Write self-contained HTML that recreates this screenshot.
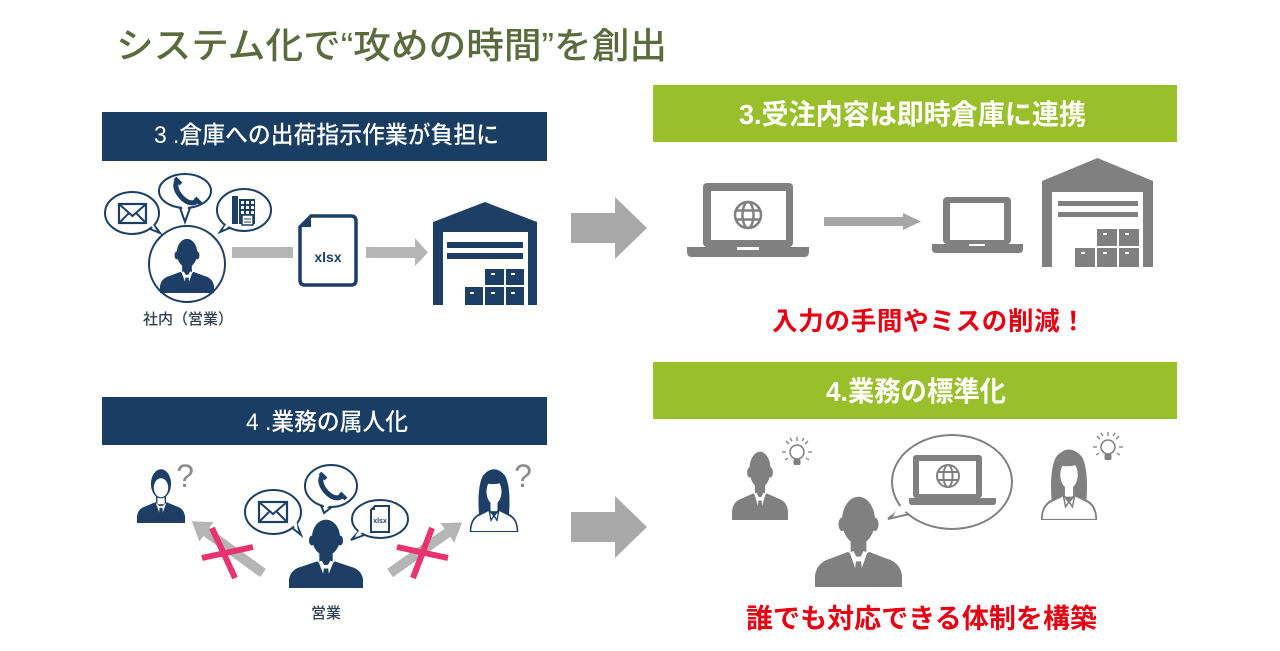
<!DOCTYPE html>
<html><head><meta charset="utf-8">
<style>
html,body{margin:0;padding:0;background:#fff;}
body{width:1280px;height:651px;overflow:hidden;position:relative;}
svg{position:absolute;left:0;top:0;}
text{font-family:"Liberation Sans","Noto Sans CJK JP",sans-serif;}
</style></head>
<body>
<svg width="1280" height="651" viewBox="0 0 1280 651" xmlns="http://www.w3.org/2000/svg">
<defs>
  <symbol id="man" viewBox="0 0 100 100" preserveAspectRatio="none">
    <ellipse cx="50" cy="30" rx="19" ry="25" fill="currentColor"/>
    <ellipse cx="31" cy="34" rx="4" ry="7" fill="currentColor"/>
    <ellipse cx="69" cy="34" rx="4" ry="7" fill="currentColor"/>
    <rect x="41" y="44" width="18" height="24" fill="currentColor"/>
    <path d="M0,100 L0,88 Q2,74 18,70 L38,63 L50,72 L62,63 L82,70 Q98,74 100,88 L100,100 Z" fill="currentColor"/>
    <path d="M40,64 L50,90 L60,64 L56,62 L50,72 L44,62 Z" fill="#fff"/>
    <path d="M47,73 L53,73 L55,92 L50,99 L45,92 Z" fill="currentColor"/>
  </symbol>
  <symbol id="man2" viewBox="0 0 100 100" preserveAspectRatio="none">
    <path d="M0,100 L0,88 Q2,74 18,70 L38,63 L50,72 L62,63 L82,70 Q98,74 100,88 L100,100 Z" fill="currentColor"/>
    <rect x="41" y="46" width="18" height="22" fill="#fff" stroke="currentColor" stroke-width="3"/>
    <path d="M39,64 L50,90 L61,64 L50,72 Z" fill="#fff"/>
    <path d="M47,73 L53,73 L55,92 L50,99 L45,92 Z" fill="currentColor"/>
    <ellipse cx="50" cy="30" rx="21" ry="26" fill="currentColor"/>
    <ellipse cx="50" cy="37" rx="15" ry="17" fill="#fff"/>
  </symbol>
  <symbol id="woman" viewBox="0 0 100 100" preserveAspectRatio="none">
    <path d="M20,74 Q16,30 28,13 Q50,-6 72,13 Q84,30 80,74 Z" fill="currentColor"/>
    <ellipse cx="50" cy="38" rx="15" ry="19" fill="#fff"/>
    <rect x="43" y="52" width="14" height="16" fill="#fff"/>
    <path d="M3,100 Q3,79 22,73 L40,66 L50,75 L60,66 L78,73 Q97,79 97,100 Z" fill="#fff" stroke="currentColor" stroke-width="3"/>
    <path d="M40,66 L44,82 L50,75 L56,82 L60,66" fill="none" stroke="currentColor" stroke-width="2.5"/>
    <path d="M30,20 Q50,8 70,20 Q62,28 40,26 Z" fill="currentColor"/>
  </symbol>
  <symbol id="bulb" viewBox="-16 -16 32 32">
    <circle cx="0" cy="-1" r="7" fill="#fff" stroke="#808080" stroke-width="1.5"/>
    <rect x="-3.5" y="6" width="7" height="6" rx="1.5" fill="#808080"/>
    <g stroke="#808080" stroke-width="1.3">
      <line x1="-15" y1="-1" x2="-11" y2="-1"/><line x1="11" y1="-1" x2="15" y2="-1"/>
      <line x1="0" y1="-16" x2="0" y2="-12"/>
      <line x1="-11" y1="-12" x2="-8" y2="-9"/><line x1="11" y1="-12" x2="8" y2="-9"/>
      <line x1="-12" y1="7" x2="-9" y2="5"/><line x1="12" y1="7" x2="9" y2="5"/>
      <line x1="-7" y1="-15" x2="-5" y2="-12"/><line x1="7" y1="-15" x2="5" y2="-12"/>
    </g>
  </symbol>
</defs>

<!-- Title -->
<text x="116" y="58" font-size="36" font-weight="500" fill="#5a6b3d" textLength="551" lengthAdjust="spacingAndGlyphs">システム化で“攻めの時間”を創出</text>

<!-- Headers -->
<rect x="102" y="112" width="445" height="49" fill="#1a3d64"/>
<text x="154" y="143" font-size="24" font-weight="500" fill="#fff" textLength="345" lengthAdjust="spacingAndGlyphs">3 .倉庫への出荷指示作業が負担に</text>

<rect x="653" y="85" width="524" height="57" fill="#99bf2a"/>
<text x="739" y="124" font-size="28" font-weight="bold" fill="#fff" textLength="347" lengthAdjust="spacingAndGlyphs">3.受注内容は即時倉庫に連携</text>

<rect x="102" y="397" width="445" height="48" fill="#1a3d64"/>
<text x="246" y="430" font-size="24" font-weight="500" fill="#fff" textLength="162" lengthAdjust="spacingAndGlyphs">4 .業務の属人化</text>

<rect x="653" y="362" width="524" height="57" fill="#99bf2a"/>
<text x="826" y="401" font-size="28" font-weight="bold" fill="#fff" textLength="180" lengthAdjust="spacingAndGlyphs">4.業務の標準化</text>

<!-- Big arrows -->
<polygon points="571,213 615,213 615,197 647,228 615,259 615,243 571,243" fill="#a9a9a9"/>
<polygon points="571,512 615,512 615,496 647,527 615,558 615,542 571,542" fill="#a9a9a9"/>

<!-- ========== TOP LEFT ========== -->
<g stroke="#1d3f66" stroke-width="2" fill="#fff">
  <path d="M150,229 L160,233 L152,222"/>
  <ellipse cx="132" cy="213" rx="27" ry="21"/>
  <path d="M179,205 L185,222 L191,205"/>
  <ellipse cx="185" cy="191" rx="26" ry="17"/>
  <path d="M227,222 L220,232 L232,227"/>
  <ellipse cx="244" cy="210" rx="27" ry="21"/>
</g>
<g fill="#fff">
  <path d="M151,226 L156,230 L152,222 Z"/>
  <path d="M181,204 L185,218 L189,204 Z"/>
  <path d="M228,221 L223,229 L232,225 Z"/>
</g>
<rect x="119" y="204" width="27" height="19" fill="#fff" stroke="#1d3f66" stroke-width="2.2"/>
<path d="M119,204 L132.5,216 L146,204 M119,223 L129,213 M146,223 L136,213" fill="none" stroke="#1d3f66" stroke-width="2"/>
<path d="M177,181 C173,188 180,197 186,201 C191,204 196,203 198,200" fill="none" stroke="#1d3f66" stroke-width="5"/>
<path d="M175,178 L181,184 M195,198 L201,204" stroke="#1d3f66" stroke-width="4"/>
<rect x="232" y="196" width="6" height="28" fill="#1d3f66"/>
<rect x="239" y="199" width="16" height="25" fill="#1d3f66"/>
<g fill="#fff">
  <rect x="241" y="201" width="3" height="3"/><rect x="246" y="201" width="3" height="3"/><rect x="251" y="201" width="3" height="3"/>
  <rect x="241" y="206" width="3" height="3"/><rect x="246" y="206" width="3" height="3"/><rect x="251" y="206" width="3" height="3"/>
  <rect x="241" y="211" width="3" height="3"/><rect x="246" y="211" width="3" height="3"/><rect x="251" y="211" width="3" height="3"/>
</g>
<rect x="242" y="215" width="11" height="10" fill="#fff" stroke="#1d3f66" stroke-width="1.5"/>
<line x1="244" y1="219" x2="251" y2="219" stroke="#1d3f66" stroke-width="1"/>
<line x1="244" y1="222" x2="251" y2="222" stroke="#1d3f66" stroke-width="1"/>
<circle cx="187" cy="264" r="38" fill="#fff" stroke="#1d3f66" stroke-width="2"/>
<use href="#man" x="160" y="236" width="54" height="57" color="#1d3f66"/>
<text x="188" y="324" font-size="15" font-weight="500" fill="#2f3f50" text-anchor="middle">社内（営業）</text>
<rect x="232" y="247" width="61" height="11" fill="#b5b5b5"/>
<path d="M311,216 L351,216 Q356,216 356,221 L356,280 Q356,285 351,285 L305,285 Q300,285 300,280 L300,227 Z" fill="#fff" stroke="#1d3f66" stroke-width="3.5"/>
<path d="M300,227 L311,216 L311,227 Z" fill="#1d3f66"/>
<text x="328" y="262" font-size="14" font-weight="bold" fill="#1d3f66" text-anchor="middle">xlsx</text>
<rect x="366" y="247" width="50" height="11" fill="#b5b5b5"/>
<polygon points="415,238 428,252.5 415,266" fill="#b5b5b5"/>
<polygon points="433,222 485,202 537,222 537,305 528,305 528,232 443,232 443,305 433,305" fill="#1d3f66"/>
<rect x="447" y="242" width="76" height="6" fill="#1d3f66"/>
<rect x="447" y="253" width="76" height="6" fill="#1d3f66"/>
<g fill="#1d3f66">
  <rect x="485" y="269" width="19" height="16"/><rect x="506" y="269" width="18" height="16"/>
  <rect x="465" y="287" width="18" height="18"/><rect x="485" y="287" width="19" height="18"/><rect x="506" y="287" width="18" height="18"/>
</g>
<g fill="#fff">
  <rect x="491" y="273" width="4" height="2"/><rect x="511" y="273" width="4" height="2"/>
  <rect x="470" y="292" width="4" height="2"/><rect x="491" y="292" width="4" height="2"/><rect x="511" y="292" width="4" height="2"/>
</g>

<!-- ========== TOP RIGHT ========== -->
<rect x="703" y="183" width="90" height="64" rx="4" fill="#808080"/>
<rect x="711" y="191" width="75" height="49" fill="#fff"/>
<path d="M687,247 L809,247 L809,252 Q809,257 804,257 L692,257 Q687,257 687,252 Z" fill="#808080"/>
<rect x="737" y="247" width="22" height="3" fill="#fff"/>
<g fill="none" stroke="#808080" stroke-width="2.5">
  <circle cx="748" cy="215" r="13"/>
  <ellipse cx="748" cy="215" rx="5.5" ry="13"/>
  <line x1="735" y1="210.5" x2="761" y2="210.5"/>
  <line x1="735" y1="219.5" x2="761" y2="219.5"/>
</g>
<rect x="824" y="217" width="80" height="9" fill="#a6a6a6"/>
<polygon points="903,213 921,221.5 903,230" fill="#a6a6a6"/>
<rect x="943" y="197" width="68" height="47" rx="4" fill="#808080"/>
<rect x="950" y="203" width="54" height="37" fill="#fff"/>
<path d="M932,244 L1023,244 L1023,249 Q1023,253 1019,253 L936,253 Q932,253 932,249 Z" fill="#808080"/>
<rect x="969" y="244" width="16" height="2" fill="#fff"/>
<polygon points="1042,181 1097.5,158 1153,181 1153,267 1143,267 1143,192 1052,192 1052,267 1042,267" fill="#808080"/>
<rect x="1058" y="201" width="80" height="5" fill="#808080"/>
<rect x="1058" y="212" width="80" height="5" fill="#808080"/>
<g fill="#808080">
  <rect x="1097" y="229" width="20" height="17"/><rect x="1119" y="229" width="20" height="17"/>
  <rect x="1075" y="248" width="20" height="19"/><rect x="1097" y="248" width="20" height="19"/><rect x="1119" y="248" width="20" height="19"/>
</g>
<g fill="#fff">
  <rect x="1103" y="233" width="4" height="2"/><rect x="1125" y="233" width="4" height="2"/>
  <rect x="1081" y="252" width="4" height="2"/><rect x="1103" y="252" width="4" height="2"/><rect x="1125" y="252" width="4" height="2"/>
</g>
<text x="772" y="330" font-size="25.5" font-weight="bold" fill="#e60012" textLength="314" lengthAdjust="spacing">入力の手間やミスの削減！</text>

<!-- ========== BOTTOM LEFT ========== -->
<use href="#man2" x="137" y="467" width="48" height="56" color="#1d3f66"/>
<text x="185" y="487" font-size="32" fill="#8c8c8c" text-anchor="middle">?</text>
<use href="#woman" x="469" y="467" width="50" height="65" color="#1d3f66"/>
<text x="523" y="487" font-size="32" fill="#8c8c8c" text-anchor="middle">?</text>

<g transform="translate(263,573) rotate(-144)" fill="#b5b5b5">
  <rect x="0" y="-5" width="72" height="10"/>
  <polygon points="70,-12 88,0 70,12"/>
</g>
<g transform="translate(390,573) rotate(-35)" fill="#b5b5b5">
  <rect x="0" y="-5" width="72" height="10"/>
  <polygon points="70,-12 88,0 70,12"/>
</g>
<g stroke="#e8336e" stroke-width="6" stroke-linecap="butt">
  <line x1="202" y1="558" x2="253" y2="547"/>
  <line x1="212" y1="528" x2="235" y2="578"/>
  <line x1="397" y1="547" x2="448" y2="558"/>
  <line x1="432" y1="528" x2="413" y2="578"/>
</g>

<g stroke="#1d3f66" stroke-width="2" fill="#fff">
  <path d="M291,527 L301,535 L295,520"/>
  <ellipse cx="273" cy="512" rx="28" ry="22"/>
  <path d="M320,503 L324,513 L333,506"/>
  <ellipse cx="331" cy="486" rx="26" ry="21"/>
  <path d="M360,530 L351,540 L367,534"/>
  <ellipse cx="380" cy="519" rx="28" ry="19"/>
</g>
<g fill="#fff">
  <path d="M291,523 L298,531 L296,518 Z"/>
  <path d="M322,502 L325,509 L332,504 Z"/>
  <path d="M361,528 L355,536 L366,531 Z"/>
</g>
<rect x="259" y="502" width="28" height="20" fill="#fff" stroke="#1d3f66" stroke-width="2.2"/>
<path d="M259,502 L273,514 L287,502 M259,522 L269,512 M287,522 L277,512" fill="none" stroke="#1d3f66" stroke-width="2"/>
<path d="M322,476 C318,483 325,492 331,496 C336,499 341,498 343,495" fill="none" stroke="#1d3f66" stroke-width="5"/>
<path d="M320,473 L326,479 M340,493 L346,499" stroke="#1d3f66" stroke-width="4"/>
<path d="M375,506 L389,506 L389,532 L371,532 L371,510 Z" fill="#fff" stroke="#1d3f66" stroke-width="2"/>
<path d="M371,510 L375,506 L375,510 Z" fill="#1d3f66"/>
<text x="380" y="523" font-size="7" font-weight="bold" fill="#1d3f66" text-anchor="middle">xlsx</text>

<use href="#man" x="289" y="516" width="74" height="72" color="#1d3f66"/>
<text x="326" y="618" font-size="15" font-weight="500" fill="#2f3f50" text-anchor="middle">営業</text>

<!-- ========== BOTTOM RIGHT ========== -->
<use href="#man" x="732" y="448" width="56" height="72" color="#808080"/>
<use href="#bulb" x="781" y="437" width="32" height="32"/>
<use href="#woman" x="1040" y="447" width="58" height="73" color="#808080"/>
<use href="#bulb" x="1092" y="432" width="32" height="32"/>

<path d="M905,505 L888,519 L918,512" fill="#fff" stroke="#808080" stroke-width="2"/>
<ellipse cx="952" cy="482" rx="60" ry="47" fill="#fff" stroke="#808080" stroke-width="2"/>
<path d="M903,503 L893,515 L916,509 Z" fill="#fff"/>
<rect x="913" y="455" width="69" height="43" rx="3" fill="#808080"/>
<rect x="919" y="461" width="57" height="33" fill="#fff"/>
<path d="M909,498 L996,498 L996,502 Q996,505 993,505 L912,505 Q909,505 909,502 Z" fill="#808080"/>
<g fill="none" stroke="#808080" stroke-width="2">
  <circle cx="948" cy="476" r="11"/>
  <ellipse cx="948" cy="476" rx="4.5" ry="11"/>
  <line x1="937" y1="472" x2="959" y2="472"/>
  <line x1="937" y1="480" x2="959" y2="480"/>
</g>
<use href="#man" x="815" y="492" width="87" height="95" color="#808080"/>

<text x="746" y="628" font-size="27" font-weight="bold" fill="#e60012" textLength="351" lengthAdjust="spacing">誰でも対応できる体制を構築</text>
</svg>
</body></html>
